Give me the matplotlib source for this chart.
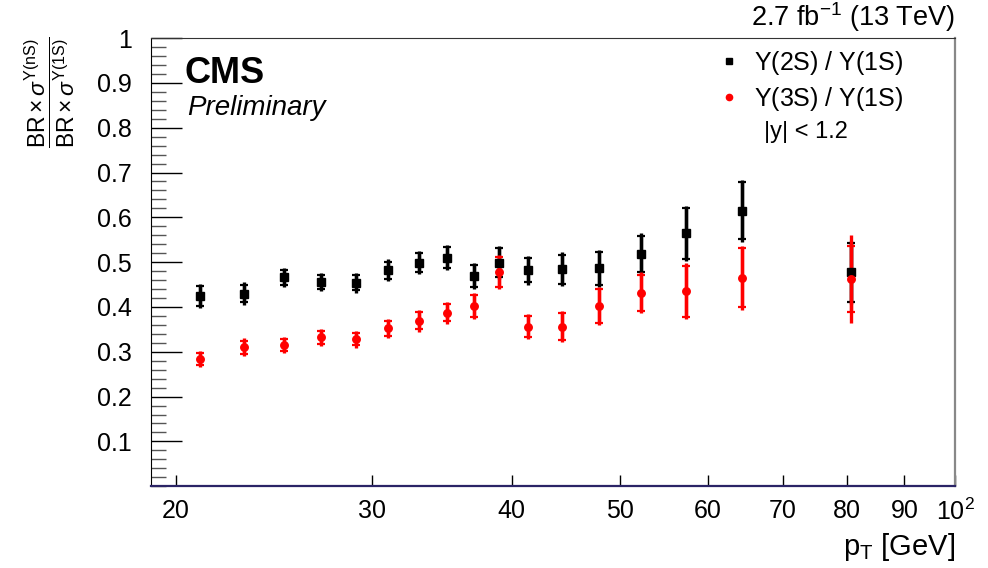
import matplotlib
matplotlib.use("Agg")
from matplotlib import pyplot as plt
from matplotlib.lines import Line2D
from matplotlib.ticker import FixedLocator, MultipleLocator, NullLocator
import numpy as np

plt.rcParams['font.family'] = ['Liberation Sans', 'DejaVu Sans']
plt.rcParams['mathtext.fontset'] = 'custom'
plt.rcParams['mathtext.rm'] = 'Liberation Sans'
plt.rcParams['mathtext.it'] = 'Liberation Sans:italic'
plt.rcParams['mathtext.bf'] = 'Liberation Sans:bold'

# pT bin centres [GeV]
pt = [21, 23, 25, 27, 29, 31, 33, 35, 37, 39, 41.4, 44.4, 47.9, 52.2, 57.3, 64.3, 80.6]

# Y(2S)/Y(1S)
r21 = [0.424, 0.430, 0.466, 0.456, 0.454, 0.482, 0.499, 0.510, 0.469, 0.499,
       0.482, 0.484, 0.486, 0.518, 0.564, 0.615, 0.477]
r21_tot = [0.027, 0.025, 0.022, 0.020, 0.022, 0.024, 0.026, 0.028, 0.030, 0.037,
           0.032, 0.038, 0.042, 0.046, 0.062, 0.069, 0.071]
r21_stat = [0.022, 0.020, 0.017, 0.016, 0.017, 0.019, 0.021, 0.023, 0.025, 0.032,
            0.027, 0.033, 0.037, 0.041, 0.057, 0.064, 0.066]

# Y(3S)/Y(1S)
r31 = [0.284, 0.310, 0.315, 0.332, 0.328, 0.352, 0.369, 0.387, 0.402, 0.478,
       0.356, 0.356, 0.402, 0.432, 0.435, 0.465, 0.462]
r31_tot = [0.017, 0.020, 0.017, 0.019, 0.019, 0.022, 0.024, 0.024, 0.029, 0.039,
           0.028, 0.035, 0.042, 0.045, 0.0625, 0.072, 0.098]
r31_stat = [0.013, 0.015, 0.013, 0.014, 0.014, 0.017, 0.019, 0.019, 0.024, 0.034,
            0.023, 0.030, 0.037, 0.040, 0.057, 0.066, 0.073]

xticks = [20, 30, 40, 50, 60, 70, 80, 90, 100]
xticklabels = ['20', '30', '40', '50', '60', '70', '80', '90', r'$10^{2}$']
yticks = [0.1, 0.2, 0.3, 0.4, 0.5, 0.6, 0.7, 0.8, 0.9, 1.0]
yticklabels = ['0.1', '0.2', '0.3', '0.4', '0.5', '0.6', '0.7', '0.8', '0.9', '1']

fig = plt.figure(figsize=(9.88, 5.68), dpi=100)
ax = fig.add_axes([0.153, 0.144, 0.814, 0.789])


def draw_ratio(ax, y, tot, stat, color, marker, ms):
    # total uncertainty as a bare line, statistical part with caps
    ax.errorbar(pt, y, yerr=tot, fmt='none', ecolor=color, elinewidth=2.4,
                capsize=0, zorder=3)
    ax.errorbar(pt, y, yerr=stat, fmt='none', ecolor=color, elinewidth=2.4,
                capsize=3, capthick=1.6, zorder=3)
    ax.plot(pt, y, ls='none', marker=marker, color=color, ms=ms, zorder=4)


draw_ratio(ax, r21, r21_tot, r21_stat, 'black', 's', 6.2)
draw_ratio(ax, r31, r31_tot, r31_stat, 'red', 'o', 5.4)

ax.set_xscale('log')
ax.set_xlim(19.0, 100)
ax.set_ylim(0, 1)

ax.xaxis.set_major_locator(FixedLocator(xticks))
ax.xaxis.set_minor_locator(NullLocator())
ax.set_xticklabels(xticklabels)
ax.yaxis.set_major_locator(FixedLocator(yticks))
ax.yaxis.set_minor_locator(MultipleLocator(0.02))
ax.set_yticklabels(yticklabels)

ax.tick_params(axis='x', which='major', direction='in', length=8, width=1,
               labelsize=18, pad=9, top=False)
ax.tick_params(axis='y', which='major', direction='in', length=22, width=1,
               labelsize=18, pad=14, right=False)
ax.tick_params(axis='y', which='minor', direction='in', length=11, width=1,
               right=False, color='#555555')

ax.spines['left'].set_color('black')
ax.spines['top'].set_color('#333333')
ax.spines['right'].set_color('#888888')
ax.spines['right'].set_linewidth(1.6)
ax.spines['bottom'].set_color('#2b2466')
ax.spines['bottom'].set_linewidth(1.6)

ax.set_xlabel(r'p$_{\mathrm{T}}$ [GeV]', fontsize=21, loc='right', labelpad=4)
fig.text(0.05, 0.935,
         r'$\dfrac{\mathrm{BR}\times\sigma^{\Upsilon(\mathrm{nS})}}{\mathrm{BR}\times\sigma^{\Upsilon(\mathrm{1S})}}$',
         rotation=90, ha='center', va='top', fontsize=16.5)

ax.text(0.041, 0.9, 'CMS', transform=ax.transAxes, fontsize=26,
        fontweight='bold', va='baseline', ha='left')
ax.text(0.045, 0.872, 'Preliminary', transform=ax.transAxes, fontsize=20,
        fontstyle='italic', va='top', ha='left')
ax.text(1.0, 1.01, r'2.7 fb$^{-1}$ (13 TeV)', transform=ax.transAxes,
        fontsize=19.5, ha='right', va='bottom')

handles = [
    Line2D([], [], ls='none', marker='s', color='black', ms=5),
    Line2D([], [], ls='none', marker='o', color='red', ms=4.5),
]
ax.legend(handles, [r'$\Upsilon$(2S) / $\Upsilon$(1S)', r'$\Upsilon$(3S) / $\Upsilon$(1S)'],
          loc='upper left', bbox_to_anchor=(0.677, 1.026), frameon=False,
          fontsize=18, handlelength=0.9, handletextpad=0.55, labelspacing=0.32)
ax.text(0.762, 0.79, '|y| < 1.2', transform=ax.transAxes, fontsize=17,
        ha='left', va='center')

fig.savefig('out.png', dpi=100)
